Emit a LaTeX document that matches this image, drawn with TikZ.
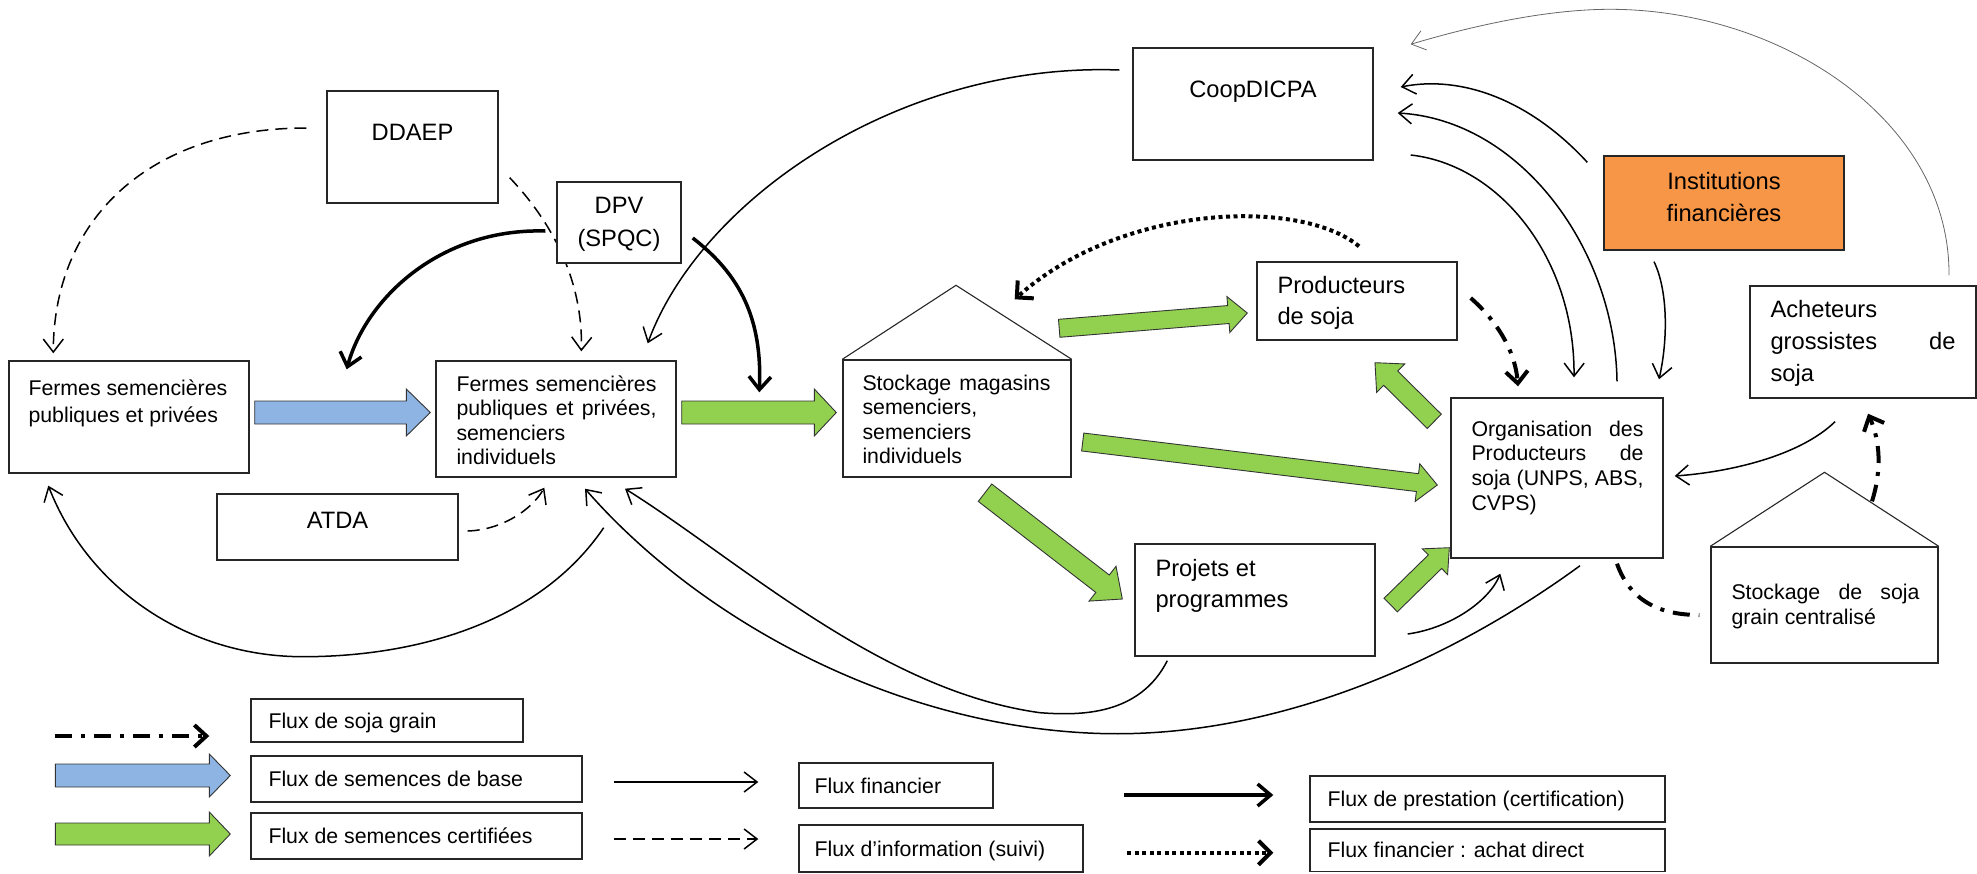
\documentclass[tikz,border=0pt]{standalone}
\usepackage{fontspec}
\setmainfont{Liberation Sans}
\usetikzlibrary{arrows.meta,calc}
\pgfdeclarelayer{bg}
\pgfsetlayers{bg,main}
\definecolor{vert}{HTML}{92D050}
\definecolor{bleu}{HTML}{8DB4E2}
\definecolor{instor}{HTML}{F79646}
\newcommand{\jline}[1]{\makebox[\linewidth][s]{#1}}
\newcommand{\blockarrow}[6]{%
  \coordinate (bat) at #2;
  \coordinate (bap) at #3;
  \coordinate (bab) at ($(bap)!#6!(bat)$);
  \filldraw[fill=#1, draw=black!80, line width=0.9pt, line join=miter]
    ($(bat)!#4!90:(bap)$) -- ($(bab)!#4!90:(bap)$) -- ($(bab)!#5!90:(bap)$) -- (bap)
    -- ($(bab)!#5!-90:(bap)$) -- ($(bab)!#4!-90:(bap)$) -- ($(bat)!#4!-90:(bap)$) -- cycle;
}
\tikzset{
  box/.style={draw=black!85, line width=1.4pt, fill=white, inner sep=0pt, anchor=center},
  roof/.style={draw=black!85, line width=1.1pt},
  txt/.style={inner sep=0pt, anchor=base west},
  txtb/.style={inner sep=0pt, anchor=base},
  big/.style={font=\fontsize{23.7pt}{30pt}\selectfont},
  small/.style={font=\fontsize{21.3pt}{25pt}\selectfont},
  fin/.style={line width=1.5pt, -{Straight Barb[length=13pt,width=20pt]}},
  info/.style={fin, dash pattern=on 12pt off 7pt},
  prest/.style={line width=3.5pt, -{Straight Barb[length=13pt,width=22pt]}},
  grainl/.style={line width=4pt, dash pattern=on 17pt off 9pt on 4pt off 9pt},
  grain/.style={grainl, -{Straight Barb[length=12pt,width=22pt]}},
  achat/.style={line width=4pt, dash pattern=on 4pt off 3.5pt, -{Straight Barb[length=12pt,width=24pt]}},
  light/.style={draw=black!60, line width=0.8pt, -{Straight Barb[length=13pt,width=20pt]}},
}
\begin{document}
\begin{tikzpicture}[x=1pt,y=-1pt]
\useasboundingbox (0,0) rectangle (1977,873);
% ---------- boxes
\node[box, minimum width=171pt, minimum height=112pt] (ddaep) at (412.5,147) {};
\node[box, minimum width=124pt, minimum height=81pt] (dpv) at (619,222.5) {};
\node[box, minimum width=240pt, minimum height=112pt] (coop) at (1253,104) {};
\node[box, fill=instor, minimum width=240pt, minimum height=94pt] (inst) at (1724,203) {};
\node[box, minimum width=240pt, minimum height=112pt] (f1) at (129,417) {};
\node[box, minimum width=240pt, minimum height=116pt] (f2) at (556,419) {};
\node[box, minimum width=241pt, minimum height=66pt] (atda) at (337.5,527) {};
\node[box, minimum width=228pt, minimum height=117pt] (stock) at (957,418.5) {};
\node[box, minimum width=200pt, minimum height=78pt] (prod) at (1357,301) {};
\node[box, minimum width=212pt, minimum height=160pt] (op) at (1557,478) {};
\node[box, minimum width=240pt, minimum height=112pt] (proj) at (1255,600) {};
\node[box, minimum width=226pt, minimum height=112pt] (ach) at (1863,342) {};
\node[box, minimum width=227pt, minimum height=116pt] (stc) at (1824.5,605) {};
% roofs
\draw[roof] (stock.north west) -- ($(stock.north)+(-1,-74)$) -- (stock.north east);
\draw[roof] (stc.north west) -- ($(stc.north)+(0,-74)$) -- (stc.north east);
% ---------- texts
\node[txtb, big] (ddaept) at ($(ddaep.center)+(0,-6.5)$) {DDAEP};
\node[txtb, big] (coopt) at ($(coop.center)+(0,-7)$) {CoopDICPA};
\node[txtb, big] (atdat) at ($(atda.center)+(0,1.5)$) {ATDA};
\node[txtb] (dpvt) at ($(dpv.north)+(0,32)$) {\parbox[t]{124pt}{\centering\fontsize{23.7pt}{33pt}\selectfont DPV\\(SPQC)}};
\node[txtb] (instt) at ($(inst.north)+(0,34)$) {\parbox[t]{240pt}{\centering\fontsize{23.7pt}{32pt}\selectfont Institutions\\financières}};
\node[txt] (f1t) at ($(f1.north west)+(20,35)$) {\parbox[t]{215pt}{\fontsize{21.3pt}{27.5pt}\selectfont Fermes semencières\\publiques et privées}};
\node[txt] (f2t) at ($(f2.north west)+(21,31)$) {\parbox[t]{200pt}{\fontsize{21.3pt}{24.5pt}\selectfont \jline{Fermes semencières}\\\jline{publiques et privées,}\\semenciers\\individuels}};
\node[txt] (stockt) at ($(stock.north west)+(20,31)$) {\parbox[t]{188pt}{\fontsize{21.3pt}{24.4pt}\selectfont \jline{Stockage magasins}\\semenciers,\\semenciers\\individuels}};
\node[txt] (prodt) at ($(prod.north west)+(21,32)$) {\parbox[t]{175pt}{\fontsize{23.7pt}{31.5pt}\selectfont Producteurs\\de soja}};
\node[txt] (opt) at ($(op.north west)+(21,39)$) {\parbox[t]{172pt}{\fontsize{21.3pt}{24.6pt}\selectfont \jline{Organisation des}\\\jline{Producteurs de}\\\jline{soja (UNPS, ABS,}\\CVPS)}};
\node[txt] (projt) at ($(proj.north west)+(21,33)$) {\parbox[t]{200pt}{\fontsize{23.7pt}{31pt}\selectfont Projets et\\programmes}};
\node[txt] (acht) at ($(ach.north west)+(21,32)$) {\parbox[t]{185pt}{\fontsize{23.7pt}{32pt}\selectfont Acheteurs\\\jline{grossistes de}\\soja}};
\node[txt] (stct) at ($(stc.north west)+(21,53)$) {\parbox[t]{188pt}{\fontsize{21.3pt}{25pt}\selectfont \jline{Stockage de soja}\\grain centralisé}};
% ---------- legend boxes
\node[box, minimum width=272pt, minimum height=43pt] (l1) at (387,720.5) {};
\node[box, minimum width=331pt, minimum height=46pt] (l2) at (416.5,779) {};
\node[box, minimum width=331pt, minimum height=46pt] (l3) at (416.5,836) {};
\node[box, minimum width=194pt, minimum height=45pt] (l4) at (896,785.5) {};
\node[box, minimum width=284pt, minimum height=47pt] (l5) at (941,848.5) {};
\node[box, minimum width=355pt, minimum height=46pt] (l6) at (1487.5,799) {};
\node[box, minimum width=355pt, minimum height=42.5pt] (l7) at (1487.5,850.25) {};
\node[txt, small] (l1t) at ($(l1.west)+(18,7.5)$) {Flux de soja grain};
\node[txt, small] (l2t) at ($(l2.west)+(18,7.5)$) {Flux de semences de base};
\node[txt, small] (l3t) at ($(l3.west)+(18,7.5)$) {Flux de semences certifiées};
\node[txt, small] (l4t) at ($(l4.west)+(16,7.5)$) {Flux financier};
\node[txt, small] (l5t) at ($(l5.west)+(16,7.5)$) {Flux d’information (suivi)};
\node[txt, small] (l6t) at ($(l6.west)+(18,7.5)$) {Flux de prestation (certification)};
\node[txt, small] (l7t) at ($(l7.west)+(18,7.5)$) {Flux financier : achat direct};
% ---------- connectors
\begin{pgfonlayer}{bg}
\blockarrow{bleu}{($(f1.east)+(5,-4.5)$)}{($(f2.west)+(-5,-6.5)$)}{11.5pt}{23.5pt}{24pt}
\blockarrow{vert}{($(f2.east)+(5,-6.5)$)}{($(stock.west)+(-6,-6)$)}{11.5pt}{23.5pt}{22pt}
\blockarrow{vert}{($(stock.north east)+(-12.5,-31)$)}{($(prod.west)+(-9,12)$)}{9pt}{18pt}{19pt}
\blockarrow{vert}{($(stock.east)+(11,23.5)$)}{($(op.west)+(-13,7)$)}{9pt}{19pt}{20pt}
\blockarrow{vert}{($(op.north west)+(-16,24)$)}{($(prod.south)+(18,22)$)}{10pt}{20pt}{22pt}
\blockarrow{vert}{($(stock.south)+(28,15)$)}{($(proj.west)+(-12,-1)$)}{11pt}{22pt}{25pt}
\blockarrow{vert}{($(proj.east)+(15,5)$)}{($(op.south west)+(-1,-11)$)}{9.5pt}{18pt}{20pt}
\blockarrow{bleu}{($(l2.west)+(-195,-3.5)$)}{($(l2.west)+(-20,-3.5)$)}{11.5pt}{21.5pt}{21pt}
\blockarrow{vert}{($(l3.west)+(-195,-2)$)}{($(l3.west)+(-20,-2)$)}{11pt}{22pt}{21pt}
%
\draw[info] ($(ddaep.west)+(-20,-19)$) .. controls +(-157,0) and +(0,-134) .. ($(f1.north west)+(45,-7)$);
\draw[info] ($(ddaep.south east)+(11,-26)$) .. controls +(41,43) and +(2,-72) .. ($(f2.north west)+(146,-9)$);
\draw[prest] ($(dpv.west)+(-11,8.5)$) .. controls +(-106,-3) and +(19,-70) .. ($(f1.north east)+(97,9)$);
\draw[prest] ($(dpv.east)+(11,15.5)$) .. controls +(48,37) and +(3,-73) .. ($(stock.north west)+(-83,33)$);
\draw[fin] ($(coop.west)+(-13,-34)$) .. controls +(-220,-8) and +(53,-144) .. ($(f2.north east)+(-29,-17)$);
\draw[fin] ($(f2.south east)+(-73,50)$) .. controls +(-63,93) and +(117,0) .. ($(atda.south)+(-34.5,96)$) .. controls +(-113,0) and +(41,105) .. ($(f1.south west)+(40,12)$);
\draw[info] ($(atda.east)+(9,4)$) .. controls +(33,-1) and +(-13,23) .. ($(f2.south west)+(109,10)$);
\draw[fin] ($(proj.south west)+(33,4)$) .. controls +(-28,55) and +(40,3) .. ($(proj.south)+(-215,56)$) .. controls +(-160,-22) and +(115,72) .. ($(f2.south)+(69,11)$);
\draw[fin] ($(op.south)+(23,7)$) .. controls +(-130,95) and +(170,2) .. ($(proj.south)+(-145,77)$) .. controls +(-210,-3) and +(115,132) .. ($(f2.south)+(29,11)$);
\draw[fin] ($(proj.east)+(32,34)$) .. controls +(43,-6) and +(-11,27) .. ($(op.south west)+(50,15)$);
\draw[fin] ($(inst.north west)+(-16,7)$) .. controls +(-58,-63) and +(60,-12) .. ($(coop.east)+(27,-17)$);
\draw[fin] ($(op.north)+(60,-16)$) .. controls +(-2,-132) and +(123,7) .. ($(coop.east)+(24,9)$);
\draw[fin] ($(coop.east)+(37,51)$) .. controls +(90,10) and +(1,-118) .. ($(op.north)+(17,-20)$);
\draw[fin] ($(inst.south)+(-70,11)$) .. controls +(14,29) and +(9,-40) .. ($(op.north)+(102,-18)$);
\draw[light] ($(ach.north)+(86,-10)$) .. controls +(1,-156) and +(170,0) .. ($(inst.north)+(-114,-146)$) .. controls +(-70,0) and +(50,-15) .. ($(coop.north east)+(37,-3)$);
\draw[fin] ($(ach.south)+(-28,23)$) .. controls +(-35,34) and +(56,-4) .. ($(op.east)+(11,-2)$);
\draw[grain] ($(stc.north)+(47.5,-45)$) .. controls +(10,-32) and +(12,27) .. ($(ach.south)+(5,15)$);
\draw[grainl] ($(op.south)+(60,5)$) .. controls +(13,37) and +(-40,0) .. ($(stc.west)+(-11,10)$);
\draw[grain] ($(prod.east)+(13,-3)$) .. controls +(25,22) and +(-3,-37) .. ($(op.north)+(-39,-11)$);
\draw[achat] ($(prod.north)+(2,-15)$) .. controls +(-59,-49) and +(106,-95) .. ($(stock.north east)+(-57,-60)$);
% legend lines
\draw[grain] ($(l1.west)+(-195,15.5)$) -- ($(l1.west)+(-41,15.5)$);
\draw[fin] ($(l4.west)+(-184,-3.5)$) -- ($(l4.west)+(-40,-3.5)$);
\draw[info] ($(l5.west)+(-184,-9.5)$) -- ($(l5.west)+(-40,-9.5)$);
\draw[prest] ($(l6.west)+(-185,-4)$) -- ($(l6.west)+(-36,-4)$);
\draw[achat] ($(l7.west)+(-182,2.5)$) -- ($(l7.west)+(-36,2.5)$);
\end{pgfonlayer}
\end{tikzpicture}
\end{document}
